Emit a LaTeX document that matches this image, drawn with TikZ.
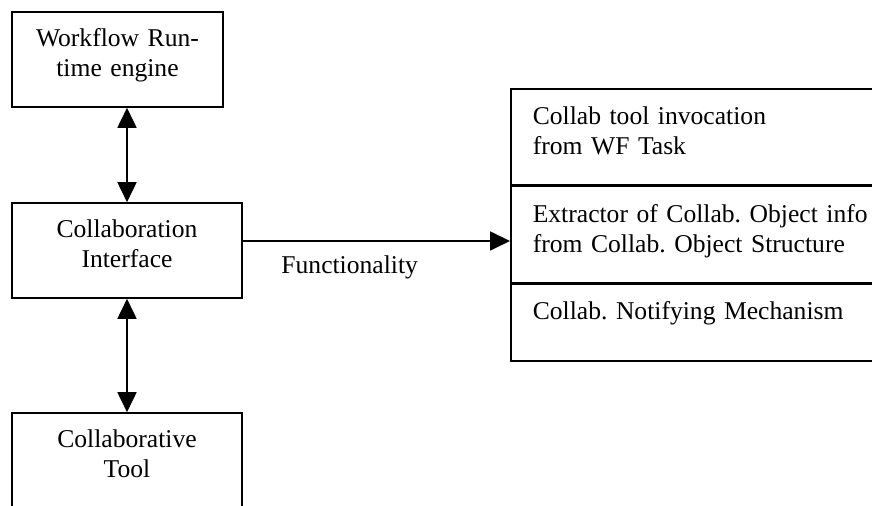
\documentclass[tikz,border=0pt]{standalone}
\usepackage{fontspec}
\setmainfont{Liberation Serif}
\usetikzlibrary{arrows.meta,positioning}
\tikzset{
  >={Triangle[length=10pt,width=9.5pt]},
}
\tikzstyle{every node}=[font=\fontsize{12.8}{15}\selectfont\frenchspacing]
\tikzstyle{box}=[draw,line width=.8pt,inner sep=0pt,align=center,text height=17.5pt,text depth=30pt]
\tikzstyle{row}=[draw,line width=.8pt,anchor=north west,inner ysep=0pt,inner xsep=11pt,text width=200pt,align=left,text height=18pt]
\tikzstyle{link}=[line width=.9pt,<->]

\begin{document}
\begin{tikzpicture}[x=.5pt,y=-.5pt]
  \clip (0,0) rectangle (872,506);
  \node[box,text width=105.5pt] (wre) at (117.5,59.5) {Workflow Run-\\time engine};
  \node[box,text width=115pt] (ci) at (127,250.5) {Collaboration\\Interface};
  \node[box,text width=115pt] (ct) at (127,460.5) {Collaborative\\Tool};
  % functionality table
  \node[row,text depth=30pt] (tk) at (510,88) {Collab tool invocation\\from WF Task};
  \node[row,text depth=30pt,below=0pt of tk] (ex) {Extractor of Collab. Object info\\from Collab. Object Structure};
  \node[row,text depth=20.5pt,below=0pt of ex] (nm) {Collab. Notifying Mechanism};
  \draw[link] (ci.north) -- (ci.north |- wre.south);
  \draw[link] (ci.south) -- (ct.north);
  \draw[line width=.9pt,->] ([yshift=4.75pt]ci.east) -- ([yshift=4.75pt]ci.east -| ex.west)
    node[pos=.4,below=7pt,inner sep=0pt] (fn) {Functionality};
\end{tikzpicture}
\end{document}
